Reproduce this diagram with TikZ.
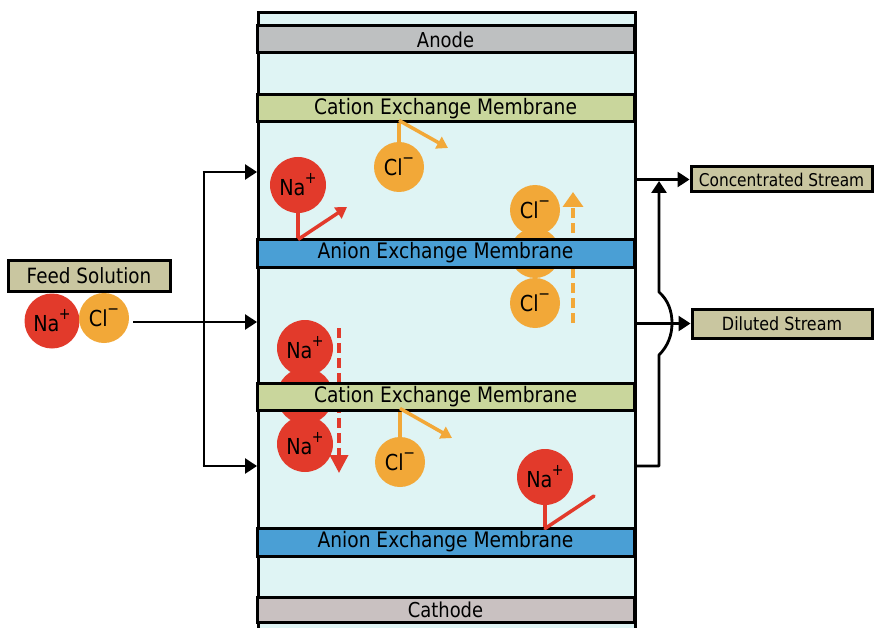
\documentclass[tikz,border=0pt]{standalone}
\usepackage{fontspec}
\setmainfont{DejaVu Sans}[FakeStretch=0.875]
\usetikzlibrary{arrows.meta}
\definecolor{bgblue}{HTML}{DFF4F4}
\definecolor{anodegray}{HTML}{BEC0C1}
\definecolor{cathgray}{HTML}{C9C1C1}
\definecolor{cemgreen}{HTML}{C9D69C}
\definecolor{aemblue}{HTML}{4A9FD5}
\definecolor{khaki}{HTML}{C9C6A0}
\definecolor{nared}{HTML}{E23A2B}
\definecolor{clorange}{HTML}{F2A838}
\newcommand\ionsup[1]{\kern-0.5pt\raisebox{0.55em}{\fontsize{16}{16}\selectfont #1}}
\begin{document}
\begin{tikzpicture}[x=1pt,y=-1pt,
  band/.style={draw=black, line width=3pt, minimum width=377pt, inner sep=0pt,
    font=\fontsize{21.3}{21.3}\selectfont},
  tagbox/.style={draw=black, line width=3pt, fill=khaki, inner sep=0pt},
  naion/.style={circle, fill=nared, minimum size=56pt, inner sep=0pt,
    font=\fontsize{22}{22}\selectfont},
  clion/.style={circle, fill=clorange, minimum size=50pt, inner sep=0pt,
    font=\fontsize{22}{22}\selectfont},
  flow/.style={line width=2.8pt, -{Triangle[length=12pt,width=15pt]}},
  naline/.style={draw=nared, line width=3.5pt},
  clline/.style={draw=clorange, line width=3.5pt},
  naarrow/.style={naline, -{Triangle[length=11pt,width=13pt]}},
  clarrow/.style={clline, -{Triangle[length=11pt,width=13pt]}},
  nadash/.style={naline, dash pattern=on 10pt off 5pt, -{Triangle[length=18pt,width=18pt]}},
  cldash/.style={clline, dash pattern=on 10pt off 5pt, -{Triangle[length=15pt,width=20pt]}}
]
\useasboundingbox (0,0) rectangle (874,628);
\fill[white] (0,0) rectangle (874,628);

% stack background
\node[draw=black, line width=3pt, fill=bgblue, minimum width=377pt, minimum height=640pt,
  inner sep=0pt, anchor=north west] (stack) at (257,11) {};

% ions behind membranes and dashed paths
\node[clion] (clm) at (535,253) {};
\node[naion] (nam) at (305,396) {};
\coordinate (dcs) at (573,323);
\coordinate (dce) at (573,192);
\draw[cldash] (dcs) -- (dce);
\coordinate (dns) at (339,328);
\coordinate (dne) at (339,473);
\draw[nadash] (dns) -- (dne);

% bands
\node[band, fill=anodegray, minimum height=27pt, font=\fontsize{20.5}{20.5}\selectfont] (anode) at (445.5,39.5) {Anode};
\node[band, fill=cemgreen, minimum height=27pt] (cem1) at (445.5,108.5) {Cation Exchange Membrane};
\node[band, fill=aemblue, minimum height=28pt] (aem1) at (445.5,253) {Anion Exchange Membrane};
\node[band, fill=cemgreen, minimum height=27pt] (cem2) at (445.5,396.5) {Cation Exchange Membrane};
\node[band, fill=aemblue, minimum height=28pt] (aem2) at (445.5,542) {Anion Exchange Membrane};
\node[band, fill=cathgray, minimum height=25pt, font=\fontsize{20.5}{20.5}\selectfont] (cathode) at (445.5,609.5) {Cathode};

% top compartment ions
\node[clion] (cl1) at (399,167) {Cl\ionsup{−}};
\draw[clline] (cl1.north) -- (cl1.north |- cem1.south);
\coordinate (cl1t) at (448,148);
\draw[clarrow] ([yshift=3pt]cl1.north |- cem1.south) -- (cl1t);
\node[naion] (na1) at (298,185) {Na\ionsup{+}};
\draw[naline] (na1.south) -- (na1.south |- aem1.north);
\coordinate (na1t) at (347,207);
\draw[naarrow] ([yshift=-2pt]na1.south |- aem1.north) -- (na1t);

% ions crossing membranes
\node[clion] (clt) at (535,210) {Cl\ionsup{−}};
\node[clion] (clb) at (535,303) {Cl\ionsup{−}};
\node[naion] (nat) at (305,348) {Na\ionsup{+}};
\node[naion] (nab) at (305,444) {Na\ionsup{+}};

% bottom compartment ions
\node[clion] (cl3) at (400,462) {Cl\ionsup{−}};
\draw[clline] (cl3.north) -- (cl3.north |- cem2.south);
\coordinate (cl3t) at (452,438);
\draw[clarrow] ([yshift=3pt]cl3.north |- cem2.south) -- (cl3t);
\node[naion] (na4) at (545,477) {Na\ionsup{+}};
\draw[naline] (na4.south) -- (na4.south |- aem2.north);
\coordinate (na4t) at (594,496);
\draw[naline, line cap=round] ([yshift=-2pt]na4.south |- aem2.north) -- (na4t);

% feed
\node[tagbox, minimum width=162pt, minimum height=31pt, font=\fontsize{21}{21}\selectfont] (feed) at (89,275.5) {Feed Solution};
\node[naion, minimum size=55pt] (na0) at (52,321) {Na\ionsup{+}};
\node[clion] (cl0) at (104,318) {Cl\ionsup{−}};
\coordinate (fmid) at (133,322);
\coordinate (ftop) at (204,172);
\coordinate (fbot) at (204,466);
\draw[flow] (fmid) -- (fmid -| stack.west);
\draw[line width=2.8pt] (ftop) -- (fbot);
\draw[flow] ([xshift=-1.4pt]ftop) -- (ftop -| stack.west);
\draw[flow] ([xshift=-1.4pt]fbot) -- (fbot -| stack.west);

% outputs
\node[tagbox, minimum width=181pt, minimum height=25pt, font=\fontsize{17.6}{17.6}\selectfont] (conc) at (781.5,179.5) {Concentrated Stream};
\node[tagbox, minimum width=180pt, minimum height=29pt, font=\fontsize{18.2}{18.2}\selectfont] (dil) at (782,323.5) {Diluted Stream};
\draw[flow] (conc.west -| stack.east) -- (conc.west);
\draw[flow] (dil.west -| stack.east) -- (dil.west);
\coordinate (rbot) at (659,466);
\coordinate (rtop) at (659,181);
\draw[flow, line join=round] (rbot -| stack.east) -- (rbot) -- (659,355)
  .. controls (668,346) and (672,335) .. (672,323)
  .. controls (672,311) and (668,300) .. (659,292) -- (rtop);
\end{tikzpicture}
\end{document}
